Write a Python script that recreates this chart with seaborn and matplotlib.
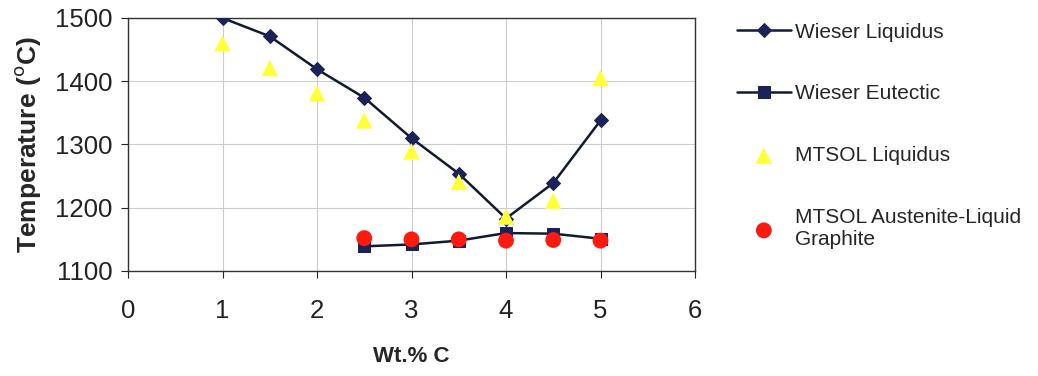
import numpy as np
import pandas as pd
import matplotlib
matplotlib.use("Agg")
import matplotlib.pyplot as plt
import seaborn as sns

# Values
wt_c_liq = [1, 1.5, 2, 2.5, 3, 3.5, 4, 4.5, 5]
wieser_liquidus = [1500, 1471, 1419, 1374, 1310, 1254, 1183, 1239, 1338]
mtsol_liquidus = [1460, 1421, 1381, 1338, 1289, 1241, 1186, 1211, 1405]

wt_c_eut = [2.5, 3, 3.5, 4, 4.5, 5]
wieser_eutectic = [1139, 1142, 1148, 1160, 1159, 1151]
mtsol_aus_graphite = [1152, 1150, 1150, 1148, 1149, 1148]

labels = ["Wieser Liquidus", "Wieser Eutectic", "MTSOL Liquidus",
          "MTSOL Austenite-Liquid\nGraphite"]

sns.set_style("whitegrid")
plt.rcParams['font.family'] = ['Liberation Sans', 'DejaVu Sans']

fig = plt.figure(figsize=(10.38, 3.76), dpi=100)
ax = fig.add_axes([128 / 1038, 1 - 271 / 376, 567 / 1038, 253 / 376])

navy = "#1b2257"
sns.lineplot(x=wt_c_liq, y=wieser_liquidus, ax=ax, color="#111a33", marker="D",
             markersize=7.5, markerfacecolor=navy, markeredgecolor=navy,
             linewidth=1.8, label=labels[0], zorder=3)
sns.lineplot(x=wt_c_eut, y=wieser_eutectic, ax=ax, color="#111a33", marker="s",
             markersize=8.5, markerfacecolor=navy, markeredgecolor=navy,
             linewidth=1.8, label=labels[1], zorder=3)
sns.scatterplot(x=wt_c_liq, y=mtsol_liquidus, ax=ax, color="#ffff3a", marker="^",
                s=140, edgecolor="none", label=labels[2], zorder=4)
sns.scatterplot(x=wt_c_eut, y=mtsol_aus_graphite, ax=ax, color="#ff1a10", marker="o",
                s=130, edgecolor="none", label=labels[3], zorder=5)

ax.set_xlim(0, 6)
ax.set_ylim(1100, 1500)
ax.set_xticks(range(0, 7))
ax.set_yticks(range(1100, 1501, 100))
ax.grid(True, color="#cccccc", linewidth=0.8)
for s in ax.spines.values():
    s.set_color("#333333")
    s.set_linewidth(1.0)
ax.tick_params(axis="both", labelsize=18.5, colors="#222222", length=5,
               direction="out", bottom=True, left=True, width=0.8)
ax.tick_params(axis="x", pad=15)
ax.tick_params(axis="y", pad=6)
ax.set_xlabel("Wt.% C", fontsize=16, fontweight="bold", labelpad=17)
ax.set_ylabel("Temperature ($^{\\mathrm{o}}$C)", fontsize=19, fontweight="bold",
              labelpad=9)

handles, lbls = ax.get_legend_handles_labels()
ax.legend_.remove()
fig.legend(handles, lbls, loc="upper left", bbox_to_anchor=(718 / 1038, 1 - 4 / 376),
           frameon=False, fontsize=15, labelspacing=2.05, handlelength=2.6,
           handletextpad=0.2)

fig.savefig("out.png", dpi=100)
